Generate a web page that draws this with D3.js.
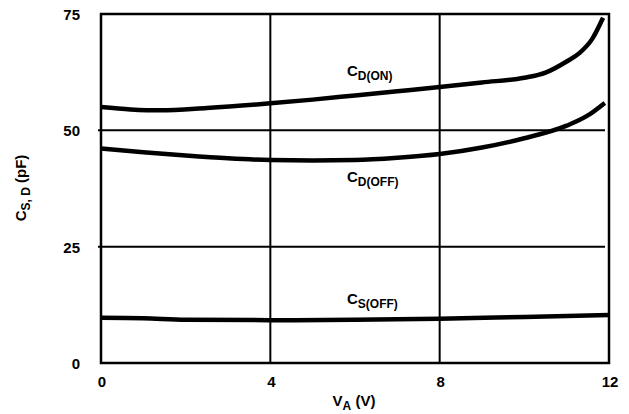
<!DOCTYPE html>
<html>
<head>
<meta charset="utf-8">
<script src="https://cdn.jsdelivr.net/npm/d3@7"></script>
<style>
  body { margin: 0; background: #fff; }
  text { font-family: "Liberation Sans", Arial, sans-serif; font-weight: bold; fill: #000; }
</style>
</head>
<body>
<svg id="chart" width="629" height="414"></svg>
<script>
// V_A (V) sample points, one list per curve
var cdOnX = [0, 0.7, 1.4, 2.5, 4, 5, 6, 7, 8, 9, 10, 10.5, 11, 11.3, 11.6, 11.86];
var cdOnY = [55.0, 54.5, 54.3, 54.8, 55.8, 56.6, 57.5, 58.4, 59.3, 60.3, 61.3, 62.4, 64.8, 66.6, 69.6, 74.2];

var cdOffX = [0, 1, 2, 3, 4, 5, 6, 7, 8, 9, 10, 11, 11.5, 11.9];
var cdOffY = [46.1, 45.3, 44.6, 44.0, 43.6, 43.5, 43.6, 44.1, 44.9, 46.3, 48.3, 51.0, 53.2, 55.9];

var csOffX = [0, 1, 2, 4, 6, 8, 10, 12];
var csOffY = [9.7, 9.6, 9.3, 9.2, 9.3, 9.5, 9.9, 10.3];

var xTicks = [0, 4, 8, 12];
var yTicks = [0, 25, 50, 75];

var svg = d3.select('#chart');
var x = d3.scaleLinear().domain([0, 12]).range([101, 609]);
var y = d3.scaleLinear().domain([0, 75]).range([363, 14]);

// grid lines (inner ones only, the frame is drawn after)
svg.selectAll('line.vgrid').data(xTicks.slice(1, 3)).enter().append('line')
    .attr('class', 'vgrid')
    .attr('x1', d => x(d)).attr('x2', d => x(d))
    .attr('y1', y(75) - 1).attr('y2', y(0))
    .attr('stroke', '#000').attr('stroke-width', 2);
svg.selectAll('line.hgrid').data(yTicks.slice(1, 3)).enter().append('line')
    .attr('class', 'hgrid')
    .attr('x1', x(0) - 3).attr('x2', x(12) - 4)
    .attr('y1', d => y(d)).attr('y2', d => y(d))
    .attr('stroke', '#000').attr('stroke-width', 2);

svg.append('rect')
    .attr('x', x(0)).attr('y', y(75))
    .attr('width', x(12) - x(0)).attr('height', y(0) - y(75))
    .attr('fill', 'none').attr('stroke', '#000').attr('stroke-width', 2.5);

// tick labels
svg.selectAll('text.ytick').data(yTicks).enter().append('text')
    .attr('class', 'ytick')
    .attr('x', 80).attr('y', d => y(d) + 6)
    .attr('text-anchor', 'end').attr('font-size', 15)
    .text(d => d);
svg.selectAll('text.xtick').data(xTicks).enter().append('text')
    .attr('class', 'xtick')
    .attr('x', d => x(d) + 1).attr('y', 387)
    .attr('text-anchor', 'middle').attr('font-size', 15)
    .text(d => d);

// curves
var line = d3.line()
    .x(d => x(d[0]))
    .y(d => y(d[1]))
    .curve(d3.curveMonotoneX);

[[cdOnX, cdOnY], [cdOffX, cdOffY], [csOffX, csOffY]].forEach(function(s) {
    svg.append('path')
        .datum(d3.zip(s[0], s[1]))
        .attr('d', line)
        .attr('fill', 'none')
        .attr('stroke', '#000')
        .attr('stroke-width', 4.5);
});

// label with subscript
function subLabel(g, px, py, main, sub, size, subSize, anchor, rotate) {
    var t = g.append('text')
        .attr('font-size', size)
        .attr('transform', 'translate(' + [px, py].join(',') + ')' + (rotate ? ' rotate(-90)' : ''))
        .attr('text-anchor', anchor);
    t.append('tspan').text(main[0]);
    t.append('tspan').attr('font-size', subSize).attr('dy', 4).text(sub);
    if (main[1]) t.append('tspan').attr('dy', -4).text(main[1]);
    return t;
}

subLabel(svg, 347, 76, ['C'], 'D(ON)', 15, 12, 'start');
subLabel(svg, 347, 182, ['C'], 'D(OFF)', 15, 12, 'start');
subLabel(svg, 347, 304, ['C'], 'S(OFF)', 15, 12, 'start');

subLabel(svg, 354, 406, ['V', ' (V)'], 'A', 15, 12, 'middle');
subLabel(svg, 26, 188, ['C', ' (pF)'], 'S, D', 15, 12, 'middle', true);
</script>
</body>
</html>
